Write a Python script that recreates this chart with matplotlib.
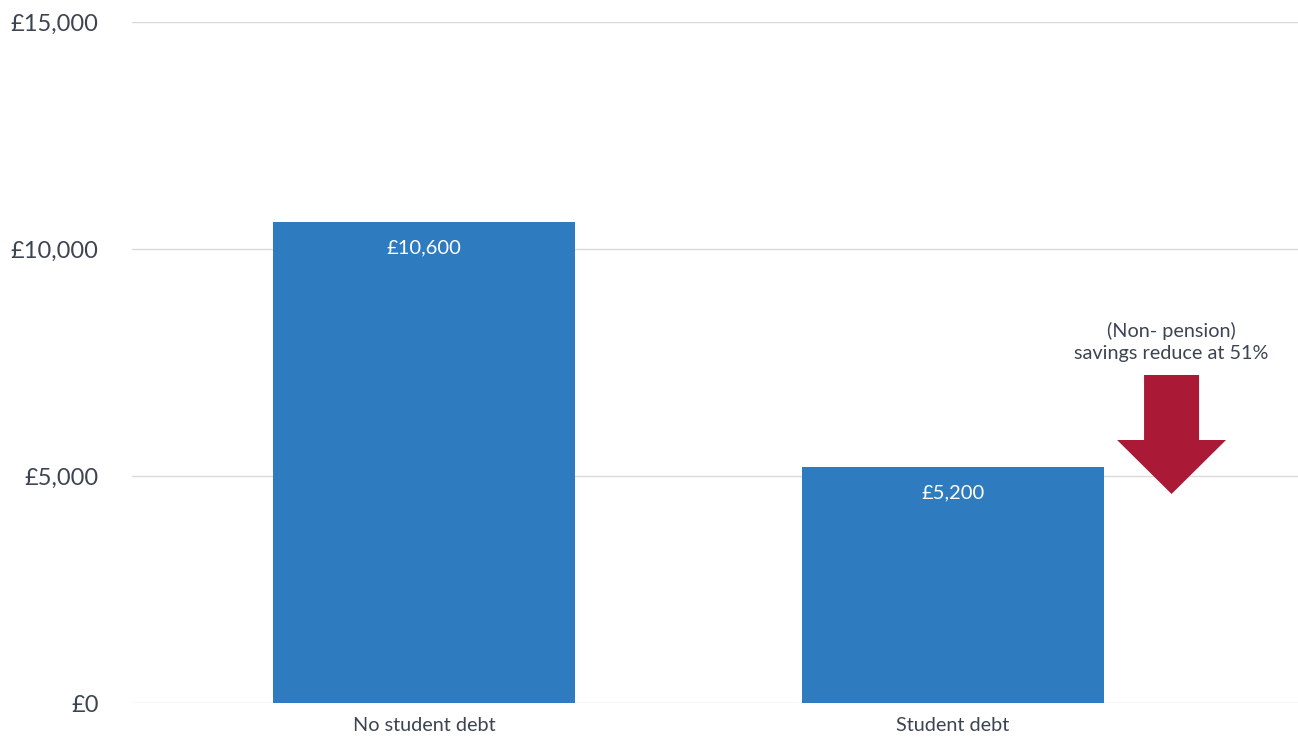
import matplotlib.pyplot as plt
from matplotlib.patches import FancyArrow
from matplotlib.ticker import FuncFormatter

categories = ["No student debt", "Student debt"]
savings = [10600, 5200]
bar_labels = ["£10,600", "£5,200"]
y_ticks = [0, 5000, 10000, 15000]
note = "(Non- pension)\nsavings reduce at 51%"

BAR_COLOR = "#2f7bbf"
ARROW_COLOR = "#aa1a37"
TEXT_COLOR = "#3d4451"
GRID_COLOR = "#d9d9d9"

plt.rcParams['font.family'] = ['Lato', 'DejaVu Sans']

fig = plt.figure(figsize=(12.98, 7.37), dpi=100)
ax = fig.add_axes([132 / 1298, 34 / 737, 1166 / 1298, 681 / 737])

x = list(range(len(categories)))
ax.bar(x, savings, width=0.571, color=BAR_COLOR, zorder=2)

for xi, v, lab in zip(x, savings, bar_labels):
    ax.annotate(lab, (xi, v), xytext=(0, -18.5), textcoords="offset points",
                ha="center", va="center", color="white", fontsize=14.5)

ax.set_xlim(-0.552, 1.652)
ax.set_ylim(0, 15000)
ax.set_yticks(y_ticks)
ax.yaxis.set_major_formatter(FuncFormatter(lambda v, _: f"£{v:,.0f}"))
ax.set_xticks(x)
ax.set_xticklabels(categories)

ax.grid(axis="y", color=GRID_COLOR, linewidth=1, zorder=0)
ax.set_axisbelow(True)
for s in ax.spines.values():
    s.set_visible(False)
ax.tick_params(axis="y", length=0, pad=24, labelsize=17, labelcolor=TEXT_COLOR)
ax.tick_params(axis="x", length=0, pad=10, labelsize=14.3, labelcolor=TEXT_COLOR)

# down arrow with note
arrow = FancyArrow(1.413, 7225, 0, -(7225 - 4604), width=0.104, head_width=0.206,
                   head_length=5793 - 4604, length_includes_head=True,
                   color=ARROW_COLOR, linewidth=0, zorder=3)
ax.add_patch(arrow)
ax.text(1.413, 7520, note, ha="center", va="bottom", fontsize=14.3,
        color=TEXT_COLOR, linespacing=1.3)

fig.savefig("out.png", dpi=100)
